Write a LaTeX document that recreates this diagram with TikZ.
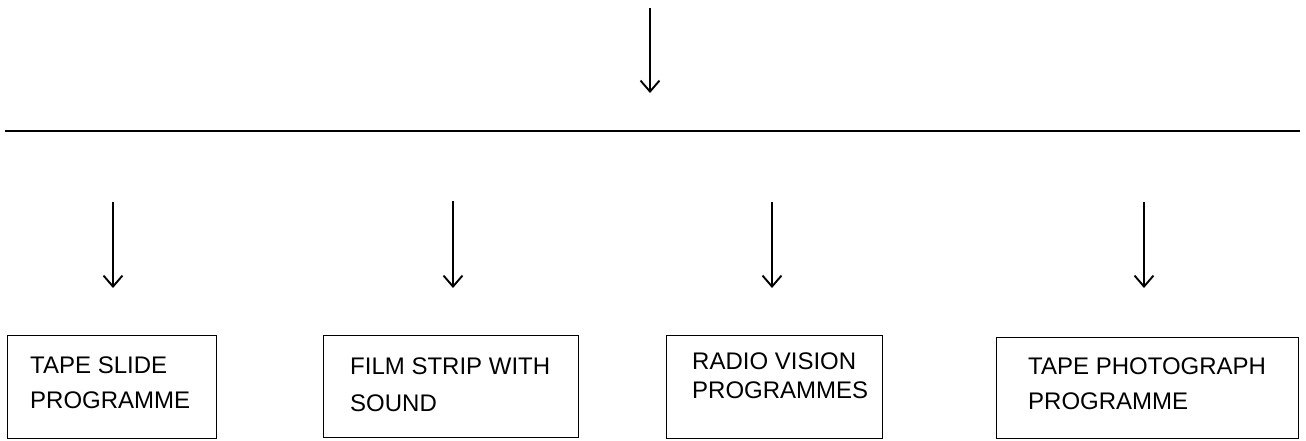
\documentclass[tikz,border=0pt]{standalone}
\usepackage{fontspec}
\setmainfont{Liberation Sans}
\usetikzlibrary{arrows.meta}
\begin{document}
\begin{tikzpicture}[x=1pt,y=-1pt,
  arr/.style={line width=1.9pt,-{Straight Barb[length=11pt,width=19pt,line width=1.9pt]}},
  rule/.style={line width=2pt},
  box/.style={draw,line width=1.2pt,inner sep=0pt,anchor=north west},
  lbl/.style={anchor=north west,align=left,inner sep=0pt}]
\useasboundingbox (0,0) rectangle (1306,440);
% top arrow and rule
\coordinate (t0) at (650,8);
\coordinate (t1) at (650,93);
\draw[arr] (t0) -- (t1);
\coordinate (r0) at (5,131);
\coordinate (r1) at (1300,131);
\draw[rule] (r0) -- (r1);
% boxes
\node[box,minimum width=209pt,minimum height=103pt] (b1) at (7,335) {};
\node[box,minimum width=255pt,minimum height=102pt] (b2) at (323,335) {};
\node[box,minimum width=216pt,minimum height=103pt] (b3) at (666,335) {};
\node[box,minimum width=302pt,minimum height=101pt] (b4) at (996,337) {};
\node[lbl,font=\fontsize{24}{35}\selectfont] (l1) at ([xshift=23pt,yshift=-22pt]b1.north west) {TAPE SLIDE\\PROGRAMME};
\node[lbl,font=\fontsize{24}{37}\selectfont] (l2) at ([xshift=27pt,yshift=-23pt]b2.north west) {FILM STRIP WITH\\SOUND};
\node[lbl,font=\fontsize{24}{29}\selectfont] (l3) at ([xshift=26pt,yshift=-18pt]b3.north west) {RADIO VISION\\PROGRAMMES};
\node[lbl,font=\fontsize{24}{35}\selectfont] (l4) at ([xshift=32pt,yshift=-21pt]b4.north west) {TAPE PHOTOGRAPH\\PROGRAMME};
% lower arrows
\coordinate (a1s) at (113,202); \coordinate (a1e) at (113,288);
\coordinate (a2s) at (453,201); \coordinate (a2e) at (453,288);
\coordinate (a3s) at (772,202); \coordinate (a3e) at (772,288);
\coordinate (a4s) at (1144,202); \coordinate (a4e) at (1144,288);
\draw[arr] (a1s) -- (a1e);
\draw[arr] (a2s) -- (a2e);
\draw[arr] (a3s) -- (a3e);
\draw[arr] (a4s) -- (a4e);
\end{tikzpicture}
\end{document}
